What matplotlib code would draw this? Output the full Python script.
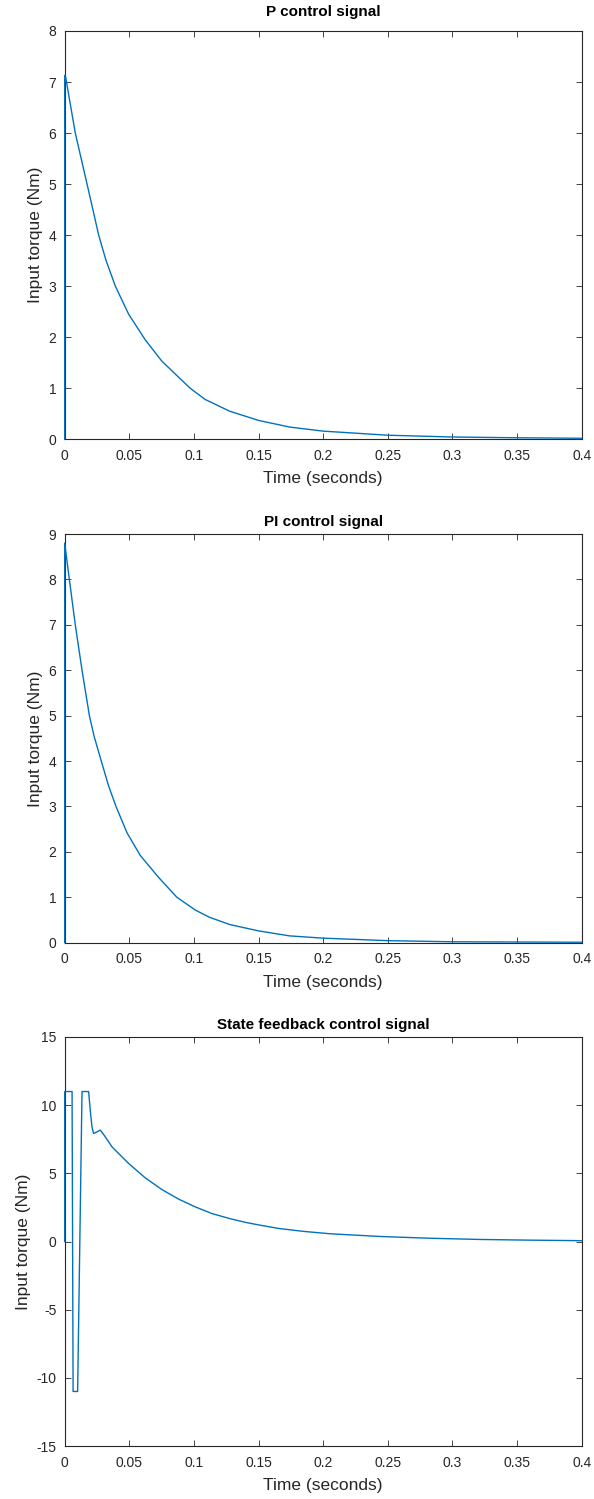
import matplotlib
matplotlib.use("Agg")
import matplotlib.pyplot as plt

# ---- data ----
t_p = [0.0, 0.0, 0.0005, 0.0082, 0.0173, 0.0263, 0.0319, 0.0392, 0.0495, 0.0623, 0.0752,
       0.0971, 0.1087, 0.1277, 0.15, 0.174, 0.2, 0.25, 0.3, 0.35, 0.4]
u_p = [0.0, 7.13, 7.13, 6.0, 5.0, 4.0, 3.51, 3.0, 2.45, 1.95, 1.53,
       1.0, 0.78, 0.55, 0.37, 0.24, 0.16, 0.08, 0.045, 0.03, 0.02]

t_pi = [0.0, 0.0, 0.0036, 0.0082, 0.0134, 0.0191, 0.0229, 0.0283, 0.034, 0.0397,
        0.0482, 0.0585, 0.0726, 0.0868, 0.101, 0.112, 0.1277, 0.15, 0.174, 0.2,
        0.25, 0.3, 0.35, 0.4]
u_pi = [0.0, 8.8, 8.0, 7.0, 6.0, 5.0, 4.53, 4.0, 3.45, 3.0,
        2.42, 1.92, 1.44, 1.0, 0.72, 0.56, 0.40, 0.26, 0.15, 0.10,
        0.045, 0.02, 0.015, 0.01]

t_sf = [0.0, 0.0, 0.0057, 0.0065, 0.0100, 0.0134, 0.0185, 0.0198, 0.0211, 0.0224, 0.0276,
        0.0314, 0.0366, 0.0495, 0.0623, 0.0752, 0.0881, 0.101, 0.1139, 0.1277, 0.14,
        0.151, 0.166, 0.185, 0.205, 0.2437, 0.282, 0.321, 0.359, 0.4]
u_sf = [0.0, 11.0, 11.0, -11.0, -11.0, 11.0, 11.0, 9.6, 8.4, 7.92, 8.17,
        7.68, 6.94, 5.72, 4.67, 3.81, 3.11, 2.54, 2.05, 1.68, 1.4,
        1.2, 0.95, 0.74, 0.57, 0.37, 0.24, 0.15, 0.10, 0.06]

titles = ["P control signal", "PI control signal", "State feedback control signal"]
ylims = [(0, 8), (0, 9), (-15, 15)]
yticks = [list(range(0, 9)), list(range(0, 10)), list(range(-15, 16, 5))]
xticks = [0, 0.05, 0.1, 0.15, 0.2, 0.25, 0.3, 0.35, 0.4]
xticklabels = ["0", "0.05", "0.1", "0.15", "0.2", "0.25", "0.3", "0.35", "0.4"]
xlabel = "Time (seconds)"
ylabel = "Input torque (Nm)"

series = [(t_p, u_p), (t_pi, u_pi), (t_sf, u_sf)]

plt.rcParams['font.family'] = ['Liberation Sans', 'DejaVu Sans']
plt.rcParams['axes.unicode_minus'] = False

W, H = 594, 1499
fig = plt.figure(figsize=(W / 100, H / 100), dpi=100)

boxes = [(64.7, 31, 581.7, 439.3), (64.7, 534, 581.7, 942.7), (64.7, 1037, 581.7, 1446)]
title_pads = [10.5, 6, 6]
axc = '#262626'
for i, (x0, y0, x1, y1) in enumerate(boxes):
    ax = fig.add_axes([x0 / W, 1 - y1 / H, (x1 - x0) / W, (y1 - y0) / H])
    t, u = series[i]
    ax.plot(t, u, color='#0072BD', linewidth=1.0, zorder=3, clip_on=False)
    ax.set_xlim(0, 0.4)
    ax.set_ylim(*ylims[i])
    ax.set_xticks(xticks)
    ax.set_xticklabels(xticklabels)
    ax.set_yticks(yticks[i])
    ax.tick_params(direction='in', top=True, right=True, length=4, width=0.6,
                   colors=axc, labelsize=10)
    ax.tick_params(axis='x', pad=7)
    ax.tick_params(axis='y', pad=6)
    for sp in ax.spines.values():
        sp.set_color(axc)
        sp.set_linewidth(0.8)
    ax.set_xlabel(xlabel, fontsize=12.5, color=axc, labelpad=6)
    ax.set_ylabel(ylabel, fontsize=12.5, color=axc, labelpad=4)
    ax.set_title(titles[i], fontsize=11, fontweight='bold', color='black',
                 pad=title_pads[i])

fig.savefig("out.png", dpi=100)
